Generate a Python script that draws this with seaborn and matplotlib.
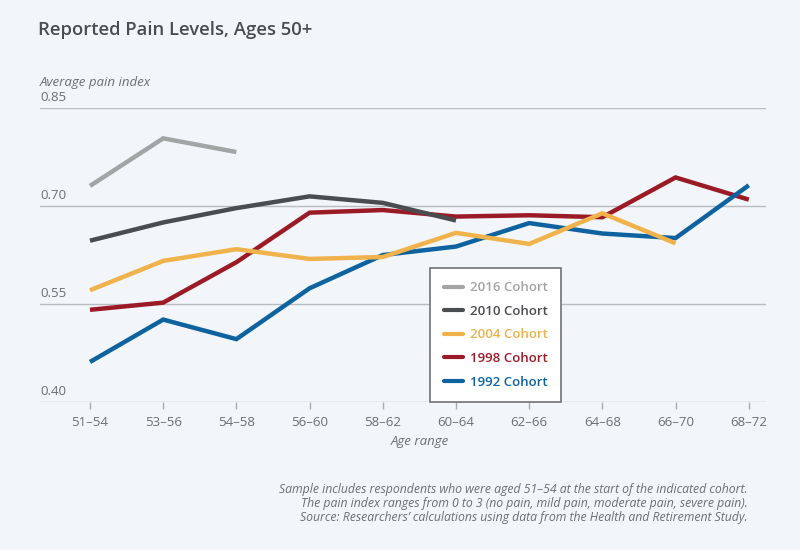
import numpy as np
import pandas as pd
import matplotlib
matplotlib.use("Agg")
import matplotlib.pyplot as plt
from matplotlib.lines import Line2D
import seaborn as sns

age_ranges = ["51–54", "53–56", "54–58", "56–60", "58–62", "60–64", "62–66", "64–68", "66–70", "68–72"]
cohort_1992 = [0.461, 0.526, 0.496, 0.574, 0.625, 0.638, 0.674, 0.658, 0.651, 0.732]
cohort_1998 = [0.541, 0.552, 0.614, 0.690, 0.694, 0.684, 0.686, 0.683, 0.744, 0.710]
cohort_2004 = [0.571, 0.616, 0.634, 0.619, 0.622, 0.659, 0.642, 0.689, 0.643, np.nan]
cohort_2010 = [0.647, 0.675, 0.697, 0.715, 0.705, 0.678, np.nan, np.nan, np.nan, np.nan]
cohort_2016 = [0.731, 0.804, 0.783, np.nan, np.nan, np.nan, np.nan, np.nan, np.nan, np.nan]
y_ticks = [0.40, 0.55, 0.70, 0.85]
y_tick_labels = ["0.40", "0.55", "0.70", "0.85"]

legend_order = ["2016 Cohort", "2010 Cohort", "2004 Cohort", "1998 Cohort", "1992 Cohort"]
draw_order = ["1998 Cohort", "1992 Cohort", "2004 Cohort", "2010 Cohort", "2016 Cohort"]
colors = {
    "2016 Cohort": "#a2a4a6",
    "2010 Cohort": "#4a4c50",
    "2004 Cohort": "#f0b24a",
    "1998 Cohort": "#9a1b25",
    "1992 Cohort": "#0e62a0",
}

series = {
    "1992 Cohort": cohort_1992,
    "1998 Cohort": cohort_1998,
    "2004 Cohort": cohort_2004,
    "2010 Cohort": cohort_2010,
    "2016 Cohort": cohort_2016,
}
rows = []
for name, vals in series.items():
    for i, v in enumerate(vals):
        if not np.isnan(v):
            rows.append({"cohort": name, "pos": i, "value": v})
df = pd.DataFrame(rows)

sns.set_theme(style="white")
plt.rcParams["font.family"] = ["Open Sans", "DejaVu Sans"]
BG = "#f2f6fa"

fig = plt.figure(figsize=(8, 5.5), dpi=100, facecolor=BG)
ax = fig.add_axes([0.05, 0.2696, 0.907, 0.5334])
ax.set_facecolor(BG)

sns.lineplot(data=df, x="pos", y="value", hue="cohort", hue_order=draw_order,
             palette=colors, linewidth=3.2, ax=ax, legend=False,
             solid_capstyle="butt", solid_joinstyle="miter")

ax.set_xlim(-0.683, 9.23)
ax.set_ylim(0.40, 0.85)
ax.set_xticks(range(len(age_ranges)))
ax.set_xticklabels(age_ranges, fontsize=9.5, color="#6b6e72")
ax.tick_params(axis="x", length=5, width=1, color="#a9adb2", pad=5, direction="out", bottom=True)
ax.set_yticks(y_ticks)
ax.set_yticklabels([])
ax.tick_params(axis="y", length=0)
for yv, lab in zip(y_ticks, y_tick_labels):
    ax.axhline(yv, color="#b9bdc2", linewidth=1, zorder=0)
    ax.text(0.0, yv + 0.006, lab, transform=ax.get_yaxis_transform(), ha="left", va="bottom",
            fontsize=9.5, color="#6b6e72")
for s in ax.spines.values():
    s.set_visible(False)
ax.set_xlabel("")
ax.set_ylabel("")

ax.text(0.0, 1.065, "Average pain index", transform=ax.transAxes, ha="left", va="bottom",
        fontsize=9.5, style="italic", color="#6b6e72")
ax.text(4.5, -0.113, "Age range", transform=ax.get_xaxis_transform(), ha="center", va="top",
        fontsize=9.5, style="italic", color="#6b6e72")

handles = [Line2D([0], [0], color=colors[c], linewidth=3) for c in legend_order]
leg = ax.legend(handles, legend_order, loc="lower left", bbox_to_anchor=(0.538, 0.0),
                frameon=True, fancybox=False, fontsize=9.5, handlelength=1.5,
                handletextpad=0.5, labelspacing=0.8, borderpad=1.0, borderaxespad=0)
leg.get_frame().set_edgecolor("#707275")
leg.get_frame().set_linewidth(1.2)
leg.get_frame().set_facecolor("white")
leg.get_frame().set_alpha(1)
for t, c in zip(leg.get_texts(), legend_order):
    t.set_color(colors[c])
    t.set_fontweight("semibold")

fig.text(0.0475, 0.945, "Reported Pain Levels, Ages 50+", ha="left", va="center",
         fontsize=13.3, fontweight="semibold", color="#4a4c50")

foot = ("Sample includes respondents who were aged 51–54 at the start of the indicated cohort.\n"
        "The pain index ranges from 0 to 3 (no pain, mild pain, moderate pain, severe pain).\n"
        "Source: Researchers’ calculations using data from the Health and Retirement Study.")
fig.text(0.935, 0.122, foot, ha="right", va="top", fontsize=8.85, style="italic",
         color="#6b6e72", linespacing=1.12, multialignment="right")

fig.savefig("out.png", dpi=100, facecolor=BG)
